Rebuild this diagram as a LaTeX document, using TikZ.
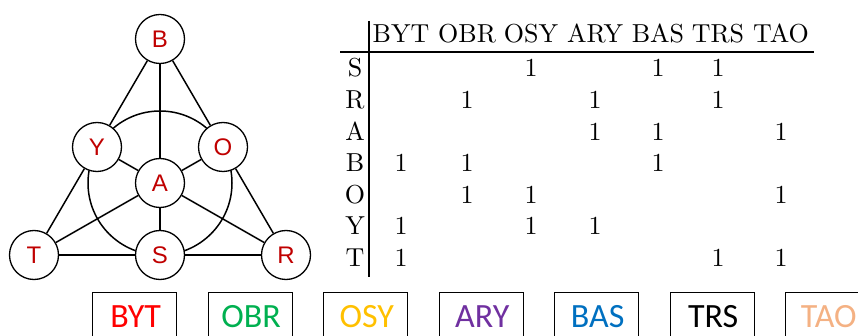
\documentclass[tikz,border=0pt]{standalone}
\usepackage{fontspec}
\newfontfamily\arialf{Liberation Sans}
\newfontfamily\calib{Carlito}
\newfontfamily\lmten{lmroman10-regular.otf}
\usetikzlibrary{backgrounds}
\definecolor{nodered}{RGB}{192,0,0}
\definecolor{cBYT}{RGB}{255,0,0}
\definecolor{cOBR}{RGB}{0,176,80}
\definecolor{cOSY}{RGB}{255,192,0}
\definecolor{cARY}{RGB}{112,48,160}
\definecolor{cBAS}{RGB}{0,112,192}
\definecolor{cTRS}{RGB}{0,0,0}
\definecolor{cTAO}{RGB}{244,177,131}
\tikzset{
  gnode/.style={circle, draw=black, line width=1.3pt, fill=white, minimum size=49pt, inner sep=0pt,
    font=\arialf\fontsize{24}{24}\selectfont, text=nodered},
  gedge/.style={line width=1.5pt, black},
  ttext/.style={anchor=base, inner sep=0pt, font=\lmten\fontsize{26}{30}\selectfont},
  tline/.style={line width=1.4pt, black},
  lbox/.style={line width=1.3pt, black},
  ltext/.style={anchor=base, inner sep=0pt, font=\calib\fontsize{34}{34}\selectfont}
}
\begin{document}
\begin{tikzpicture}[x=1pt,y=-1pt]
\useasboundingbox (0,0) rectangle (858,336);
\clip (0,0) rectangle (858,336);
% graph
\node[gnode] (B) at (160,39) {B};
\node[gnode] (Y) at (97,147) {Y};
\node[gnode] (O) at (223,147) {O};
\node[gnode] (A) at (160,183) {A};
\node[gnode] (T) at (34,255) {T};
\node[gnode] (S) at (160,255) {S};
\node[gnode] (R) at (286,255) {R};
\begin{pgfonlayer}{background}
\draw[gedge] (A.center) circle[radius=72pt];
\draw[gedge] (B) -- (Y);
\draw[gedge] (B) -- (O);
\draw[gedge] (B) -- (A);
\draw[gedge] (Y) -- (T);
\draw[gedge] (O) -- (R);
\draw[gedge] (T) -- (S);
\draw[gedge] (S) -- (R);
\draw[gedge] (A) -- (Y);
\draw[gedge] (A) -- (O);
\draw[gedge] (A) -- (T);
\draw[gedge] (A) -- (R);
\draw[gedge] (A) -- (S);
\end{pgfonlayer}
% table
\coordinate (vt) at (369,21);
\coordinate (vb) at (369,277);
\coordinate (hl) at (340,52);
\coordinate (hr) at (814,52);
\draw[tline] (vt) -- (vb);
\draw[tline] (hl) -- (hr);
\foreach \t/\x in {BYT/401,OBR/467,OSY/531,ARY/595,BAS/658,TRS/718,TAO/781}
  \node[ttext] (h\t) at (\x,43) {\t};
\foreach \r/\y in {S/77,R/108.6,A/140.2,B/171.8,O/203.4,Y/235,T/266.6}
  \node[ttext] (r\r) at (355,\y) {\r};
% entries
\foreach \x/\y in {531/77,658/77,718/77,
                   467/108.6,595/108.6,718/108.6,
                   595/140.2,658/140.2,781/140.2,
                   401/171.8,467/171.8,658/171.8,
                   467/203.4,531/203.4,781/203.4,
                   401/235,531/235,595/235,
                   401/266.6,718/266.6,781/266.6}
  \node[ttext] at (\x,\y) {1};
% legend boxes
\foreach \t [count=\i from 0] in {BYT,OBR,OSY,ARY,BAS,TRS,TAO}{
  \pgfmathsetmacro{\lx}{92.7+115.5*\i}
  \draw[lbox] (\lx,350) -- (\lx,292.7) -- (\lx+84,292.7) -- (\lx+84,350);
  \node[ltext, text=c\t] (l\t) at (\lx+43,327) {\t};
}
\end{tikzpicture}
\end{document}
